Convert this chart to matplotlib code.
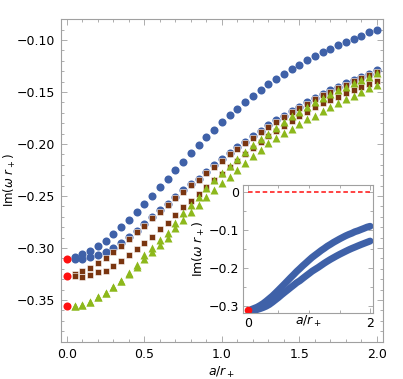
import numpy as np
import matplotlib.pyplot as plt

# a/r+ values (0.05 steps), a=0 points are the red ones
a = np.round(np.arange(0.05, 2.0001, 0.05), 2)

blue_up = [-0.3090, -0.3058, -0.3026, -0.2981, -0.2930, -0.2868, -0.2801, -0.2734, -0.2657, -0.2578,
           -0.2497, -0.2416, -0.2333, -0.2250, -0.2170, -0.2087, -0.2013, -0.1936, -0.1865, -0.1792,
           -0.1721, -0.1660, -0.1600, -0.1538, -0.1484, -0.1426, -0.1378, -0.1327, -0.1282, -0.1237,
           -0.1195, -0.1154, -0.1118, -0.1087, -0.1048, -0.1022, -0.0990, -0.0959, -0.0926, -0.0904]
blue_lo = [-0.3109, -0.3106, -0.3090, -0.3064, -0.3035, -0.3000, -0.2955, -0.2897, -0.2834, -0.2772,
           -0.2703, -0.2638, -0.2575, -0.2510, -0.2447, -0.2382, -0.2332, -0.2268, -0.2206, -0.2146,
           -0.2084, -0.2033, -0.1983, -0.1928, -0.1873, -0.1822, -0.1773, -0.1728, -0.1683, -0.1640,
           -0.1600, -0.1560, -0.1521, -0.1485, -0.1452, -0.1418, -0.1385, -0.1354, -0.1323, -0.1292]
brown_up = [-0.3250, -0.3221, -0.3195, -0.3140, -0.3099, -0.3041, -0.2981, -0.2916, -0.2846, -0.2785,
            -0.2715, -0.2650, -0.2587, -0.2522, -0.2459, -0.2394, -0.2346, -0.2282, -0.2220, -0.2160,
            -0.2096, -0.2045, -0.1995, -0.1940, -0.1885, -0.1834, -0.1785, -0.1740, -0.1695, -0.1652,
            -0.1612, -0.1572, -0.1533, -0.1497, -0.1464, -0.1430, -0.1397, -0.1366, -0.1335, -0.1304]
brown_lo = [-0.3270, -0.3276, -0.3260, -0.3227, -0.3218, -0.3173, -0.3122, -0.3067, -0.3013, -0.2950,
            -0.2891, -0.2820, -0.2757, -0.2683, -0.2609, -0.2548, -0.2481, -0.2411, -0.2350, -0.2290,
            -0.2225, -0.2160, -0.2100, -0.2040, -0.1980, -0.1920, -0.1872, -0.1824, -0.1776, -0.1731,
            -0.1689, -0.1647, -0.1609, -0.1577, -0.1545, -0.1513, -0.1481, -0.1455, -0.1422, -0.1394]
green_up = [-0.3555, -0.3548, -0.3516, -0.3474, -0.3436, -0.3378, -0.3314, -0.3240, -0.3160, -0.3070,
            -0.3000, -0.2920, -0.2859, -0.2763, -0.2667, -0.2587, -0.2507, -0.2426, -0.2350, -0.2280,
            -0.2210, -0.2140, -0.2075, -0.2010, -0.1955, -0.1900, -0.1845, -0.1785, -0.1735, -0.1690,
            -0.1645, -0.1600, -0.1560, -0.1520, -0.1485, -0.1450, -0.1418, -0.1385, -0.1355, -0.1315]
green_lo = [-0.3555, -0.3548, -0.3516, -0.3474, -0.3436, -0.3378, -0.3314, -0.3250, -0.3180, -0.3110,
            -0.3040, -0.2970, -0.2907, -0.2811, -0.2731, -0.2650, -0.2587, -0.2507, -0.2445, -0.2380,
            -0.2315, -0.2250, -0.2185, -0.2120, -0.2055, -0.1993, -0.1945, -0.1897, -0.1859, -0.1808,
            -0.1763, -0.1728, -0.1683, -0.1641, -0.1603, -0.1567, -0.1535, -0.1497, -0.1465, -0.1433]
red_y = [-0.3103, -0.3269, -0.3558]

c_blue = '#3f61a8'
c_brown = '#7a3510'
c_green = '#8db81c'
c_red = '#ff1010'
c_frame = '#a0a0a0'

plt.rcParams['font.family'] = 'DejaVu Sans'
plt.rcParams['font.size'] = 9

fig = plt.figure(figsize=(4.03, 3.79), dpi=100)
ax = fig.add_axes([0.151, 0.0976, 0.799, 0.8524])

ax.plot(a, blue_up, 'o', color=c_blue, ms=5.8, mec='none')
ax.plot(a, blue_lo, 'o', color=c_blue, ms=5.8, mec='none')
ax.plot(a, brown_up, 's', color=c_brown, ms=5.0, mec='white', mew=0.4)
ax.plot(a, brown_lo, 's', color=c_brown, ms=5.0, mec='white', mew=0.4)
ax.plot(a, green_up, '^', color=c_green, ms=5.8, mec='none')
ax.plot(a, green_lo, '^', color=c_green, ms=5.8, mec='none')
ax.plot([0, 0, 0], red_y, 'o', color=c_red, ms=5.8, mec='none')

ax.set_xlim(-0.039, 2.039)
ax.set_ylim(-0.3904, -0.0798)
ax.set_xticks([0, 0.5, 1.0, 1.5, 2.0])
ax.set_xticklabels(['0.0', '0.5', '1.0', '1.5', '2.0'])
ax.set_yticks([-0.35, -0.30, -0.25, -0.20, -0.15, -0.10])
ax.set_yticklabels(['\u22120.35', '\u22120.30', '\u22120.25', '\u22120.20', '\u22120.15', '\u22120.10'])
ax.set_xticks(np.arange(0, 2.01, 0.1), minor=True)
ax.set_yticks(np.arange(-0.39, -0.079, 0.01), minor=True)
ax.tick_params(which='both', direction='in', top=True, right=True, color=c_frame, width=0.6)
ax.tick_params(which='major', length=4, pad=4)
ax.tick_params(which='minor', length=2)
for s in ax.spines.values():
    s.set_color(c_frame)
    s.set_linewidth(0.8)
ax.set_xlabel(r'$a/r_+$', labelpad=3)
ax.set_ylabel(r'Im$(\omega\ r_+)$', fontsize=8.5)
ax.yaxis.set_label_coords(-0.133, 0.5)

# inset
ax2 = fig.add_axes([0.603, 0.174, 0.323, 0.338])
ax2.set_facecolor('white')
ax2.plot(a, blue_up, '-', color=c_blue, lw=5, solid_capstyle='round')
ax2.plot(a, blue_lo, '-', color=c_blue, lw=5, solid_capstyle='round')
ax2.plot([0, 2], [0, 0], '--', color=c_red, lw=1.1, dashes=(3, 1.8))
ax2.plot([0], red_y[:1], 'o', color=c_red, ms=5.5, mec='none')
ax2.set_xlim(-0.08, 2.05)
ax2.set_ylim(-0.318, 0.018)
ax2.set_xticks([0, 2])
ax2.set_xticklabels(['0', '2'])
ax2.set_yticks([0, -0.1, -0.2, -0.3])
ax2.set_yticklabels(['0', '\u22120.1', '\u22120.2', '\u22120.3'])
ax2.set_xticks([0.5, 1.0, 1.5], minor=True)
ax2.set_yticks(np.arange(-0.3, 0.01, 0.05), minor=True)
ax2.tick_params(which='both', direction='in', top=True, right=True, color=c_frame, width=0.6)
ax2.tick_params(which='major', length=3.5, pad=3)
ax2.tick_params(which='minor', length=2)
for s in ax2.spines.values():
    s.set_color(c_frame)
    s.set_linewidth(0.8)
ax2.set_xlabel(r'$a/r_+$', labelpad=-12)
ax2.set_ylabel(r'Im$(\omega\ r_+)$', labelpad=1)

fig.savefig('out.png', dpi=100)
